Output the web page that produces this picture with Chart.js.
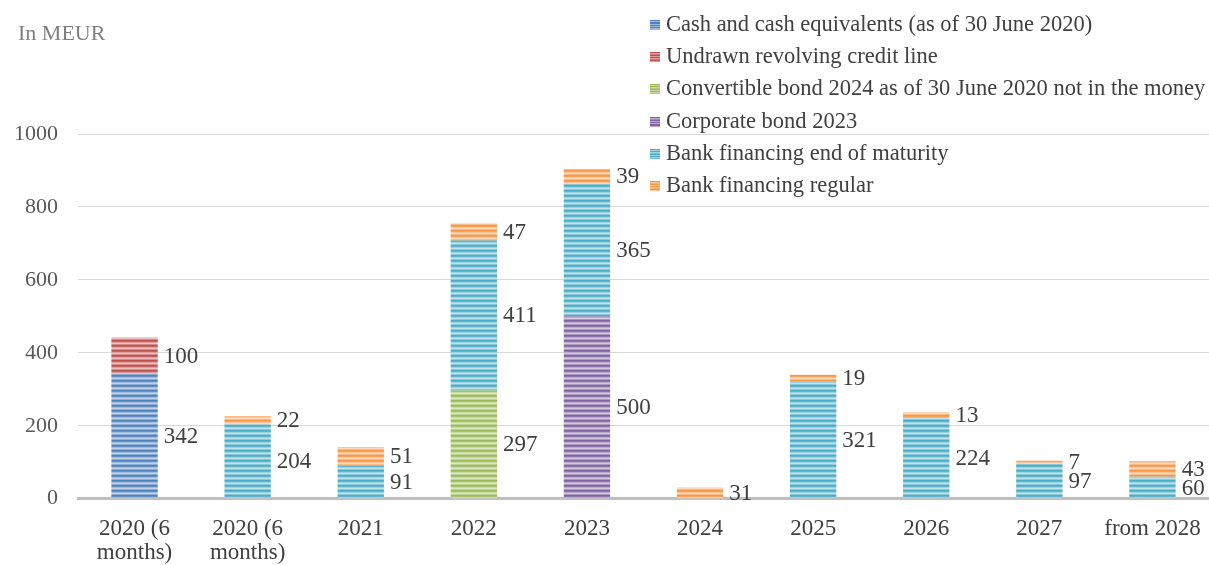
<!DOCTYPE html>
<html lang="en">
<head>
  <meta charset="UTF-8" />
  <title>Maturity profile</title>
  <script src="https://cdn.jsdelivr.net/npm/chart.js"></script>
  <style>
    body {
      margin: 0;
      background: #ffffff;
      font-family: 'Liberation Serif', 'Times New Roman', serif;
    }
    .wrap {
      position: relative;
      width: 1209px;
      height: 565px;
      overflow: hidden;
    }
    .unit {
      position: absolute;
      left: 18px;
      top: 20px;
      font-size: 22px;
      color: #7f7f7f;
    }
    .legend {
      position: absolute;
      left: 650px;
      top: 9px;
      font-size: 22.5px;
      color: #404040;
    }
    .legend div {
      height: 32.2px;
      line-height: 30px;
      white-space: nowrap;
    }
    .legend span {
      display: inline-block;
      width: 10px;
      height: 10px;
      margin-right: 6px;
      vertical-align: 1px;
    }
  </style>
</head>
<body>
  <div class="wrap">
    <canvas id="debtChart" width="1209" height="565"></canvas>
    <div class="unit">In MEUR</div>
    <div class="legend" id="legend"></div>
  </div>

  <script>
    // categories and series (values in MEUR)
    const categories = [['2020 (6', 'months)'], ['2020 (6', 'months)'], '2021', '2022', '2023', '2024', '2025', '2026', '2027', 'from 2028'];
    const seriesNames = [
      'Cash and cash equivalents (as of 30 June 2020)',
      'Undrawn revolving credit line',
      'Convertible bond 2024 as of 30 June 2020 not in the money',
      'Corporate bond 2023',
      'Bank financing end of maturity',
      'Bank financing regular'
    ];
    const seriesColors = ['#4f81bd', '#c0504d', '#9bbb59', '#8064a2', '#4bacc6', '#f79646'];
    const cash        = [342, 0, 0, 0, 0, 0, 0, 0, 0, 0];
    const revolver    = [100, 0, 0, 0, 0, 0, 0, 0, 0, 0];
    const convertible = [0, 0, 0, 297, 0, 0, 0, 0, 0, 0];
    const corporate   = [0, 0, 0, 0, 500, 0, 0, 0, 0, 0];
    const bankEnd     = [0, 204, 91, 411, 365, 0, 321, 224, 97, 60];
    const bankRegular = [0, 22, 51, 47, 39, 31, 19, 13, 7, 43];
    const yTicks = [0, 200, 400, 600, 800, 1000];

    const seriesValues = [cash, revolver, convertible, corporate, bankEnd, bankRegular];

    function mix(hex, t) {
      const n = parseInt(hex.slice(1), 16);
      const r = (n >> 16) & 255, g = (n >> 8) & 255, b = n & 255;
      const f = c => Math.round(c + (255 - c) * t);
      return `rgb(${f(r)},${f(g)},${f(b)})`;
    }

    // horizontal stripe fill like the original
    function stripes(color) {
      const c = document.createElement('canvas');
      c.width = 8; c.height = 5;
      const g = c.getContext('2d');
      const rows = [0, 0.12, 0.45, 0.65, 0.35];
      rows.forEach((t, i) => {
        g.fillStyle = mix(color, t);
        g.fillRect(0, i, 8, 1);
      });
      return g.createPattern(c, 'repeat');
    }

    // legend
    const legend = document.getElementById('legend');
    seriesNames.forEach((name, i) => {
      const row = document.createElement('div');
      const sw = document.createElement('span');
      const col = seriesColors[i];
      sw.style.background = `repeating-linear-gradient(to bottom, ${col} 0px, ${col} 1px, ${mix(col, 0.45)} 1px, ${mix(col, 0.45)} 2px, ${mix(col, 0.25)} 2px, ${mix(col, 0.25)} 2.5px)`;
      row.appendChild(sw);
      row.appendChild(document.createTextNode(name));
      legend.appendChild(row);
    });

    // value labels right of each segment
    const valueLabels = {
      id: 'valueLabels',
      afterDatasetsDraw(chart) {
        const ctx = chart.ctx;
        ctx.save();
        ctx.font = '23px "Liberation Serif", serif';
        ctx.fillStyle = '#404040';
        ctx.textAlign = 'left';
        ctx.textBaseline = 'middle';
        chart.data.datasets.forEach((ds, di) => {
          chart.getDatasetMeta(di).data.forEach((bar, i) => {
            const v = ds.data[i];
            if (!v) return;
            ctx.fillText(String(v), bar.x + bar.width / 2 + 6, (bar.y + bar.base) / 2 + 1);
          });
        });
        ctx.restore();
      }
    };

    const ctx = document.getElementById('debtChart').getContext('2d');
    new Chart(ctx, {
      type: 'bar',
      data: {
        labels: categories,
        datasets: seriesValues.map((vals, i) => ({
          label: seriesNames[i],
          data: vals,
          backgroundColor: stripes(seriesColors[i]),
          borderWidth: 0,
          barPercentage: 0.41,
          categoryPercentage: 1
        }))
      },
      options: {
        responsive: false,
        animation: false,
        layout: { padding: { top: 134, left: 0, right: -8, bottom: -18 } },
        plugins: {
          legend: { display: false },
          tooltip: { enabled: false }
        },
        scales: {
          x: {
            stacked: true,
            afterFit: axis => { axis.paddingLeft = 0; axis.paddingRight = 0; },
            grid: { display: false, drawTicks: false },
            border: { display: true, color: '#bfbfbf', width: 3 },
            ticks: {
              color: '#404040',
              font: { family: 'Liberation Serif', size: 23, lineHeight: 1.05 },
              padding: 18,
              maxRotation: 0,
              autoSkip: false
            }
          },
          y: {
            stacked: true,
            min: 0,
            max: 1000,
            afterBuildTicks: axis => { axis.ticks = yTicks.map(v => ({ value: v })); },
            afterFit: axis => { axis.width = 78; },
            grid: { color: '#d9d9d9', drawTicks: false },
            border: { display: false },
            ticks: {
              color: '#595959',
              font: { family: 'Liberation Serif', size: 22 },
              padding: 20,
              callback: v => String(v)
            }
          }
        }
      },
      plugins: [valueLabels]
    });
  </script>
</body>
</html>
